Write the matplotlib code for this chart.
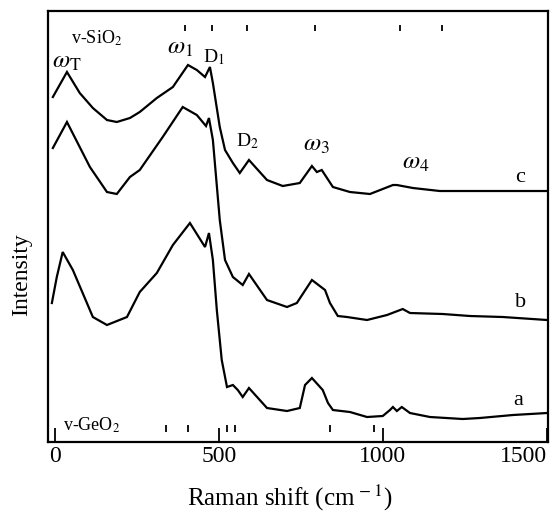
import numpy as np
import matplotlib
matplotlib.use("Agg")
from matplotlib import pyplot as plt

plt.rcParams["font.family"] = "serif"
plt.rcParams["font.serif"] = ["Liberation Serif", "DejaVu Serif"]
plt.rcParams["mathtext.fontset"] = "stix"

# spectra (Raman shift cm-1, intensity in arb. units)
c_x = [-6, 37, 76, 116, 159, 189, 229, 259, 311, 360, 406, 433, 458, 473, 482, 503, 519, 543,
       564, 592, 647, 695, 747, 784, 799, 814, 848, 900, 961, 1031, 1043, 1092, 1174, 1296, 1501]
c_y = [345, 370, 349, 334, 322, 320, 324, 330, 344, 355, 377, 372, 365, 375, 359, 315, 292, 279,
       269, 282, 262, 256, 259, 276, 270, 272, 255, 250, 248, 257, 257, 254, 251, 251, 251]

b_x = [-6, 37, 107, 159, 189, 229, 259, 329, 390, 433, 461, 470, 482, 503, 519, 543, 573, 592,
       647, 708, 738, 784, 824, 839, 863, 891, 952, 1013, 1061, 1083, 1183, 1266, 1366, 1501]
b_y = [294, 320, 275, 250, 248, 265, 272, 305, 335, 327, 316, 324, 302, 222, 182, 165, 157, 168,
       142, 135, 139, 162, 152, 139, 126, 125, 122, 127, 133, 129, 128, 126, 125, 122]

a_x = [-9, 6, 24, 55, 116, 159, 220, 259, 311, 360, 412, 458, 470, 482, 494, 509, 525, 543, 558,
       573, 592, 647, 708, 747, 763, 784, 817, 833, 848, 900, 952, 1000, 1022, 1031, 1043, 1058,
       1083, 1144, 1244, 1296, 1397, 1501]
a_y = [139, 165, 190, 172, 125, 117, 125, 150, 169, 197, 219, 195, 209, 182, 132, 82, 55, 57, 52,
       45, 54, 34, 31, 34, 57, 64, 52, 39, 32, 30, 25, 26, 32, 35, 31, 35,
       29, 25, 23, 24, 27, 29]

sio2_lines = [396, 479, 586, 793, 1052, 1180]
geo2_lines = [339, 406, 525, 549, 839, 973]
xticks = [0, 500, 1000, 1500]

fig = plt.figure(figsize=(5.51, 5.12), dpi=100)
ax = fig.add_axes([0.087, 0.1367, 0.9076, 0.8418])

for xs, ys in [(a_x, a_y), (b_x, b_y), (c_x, c_y)]:
    ax.plot(xs, ys, color="black", lw=1.6, solid_joinstyle="miter")

# reference line positions
tr = ax.get_xaxis_transform()
ax.vlines(sio2_lines, 0.954, 0.968, transform=tr, color="black", lw=1.3)
ax.vlines(geo2_lines, 0.023, 0.039, transform=tr, color="black", lw=1.3)

ax.set_xlim(-21, 1504)
ax.set_ylim(0, 431)
ax.set_xticks(xticks)
ax.set_yticks([])
ax.tick_params(axis="x", direction="in", length=10, width=1.3, labelsize=17, pad=3)
ax.get_xticklabels()[-1].set_horizontalalignment("right")
for s in ax.spines.values():
    s.set_linewidth(1.6)

fs = 14
fw = 18
ax.text(128, 404, "v-SiO$_2$", fontsize=13, ha="center", va="center")
ax.text(113, 17, "v-GeO$_2$", fontsize=13, ha="center", va="center")
ax.text(36, 380, r"$\omega_{\rm T}$", fontsize=fw, ha="center", va="center")
ax.text(381, 394, r"$\omega_{1}$", fontsize=fw, ha="center", va="center")
ax.text(484, 385, "D$_1$", fontsize=fs, ha="center", va="center")
ax.text(589, 301, "D$_2$", fontsize=fs, ha="center", va="center")
ax.text(798, 297, r"$\omega_{3}$", fontsize=fw, ha="center", va="center")
ax.text(1101, 279, r"$\omega_{4}$", fontsize=fw, ha="center", va="center")
ax.text(1418, 265, "c", fontsize=16, ha="center", va="center")
ax.text(1421, 140, "b", fontsize=16, ha="center", va="center")
ax.text(1412, 42, "a", fontsize=16, ha="center", va="center")

fig.text(0.04, 0.463, "Intensity", rotation=90, fontsize=17, ha="center", va="center")
fig.text(0.526, 0.028, "Raman shift (cm$^{\\,-1}$)", fontsize=18, ha="center", va="center")

fig.savefig("out.png", dpi=100)
